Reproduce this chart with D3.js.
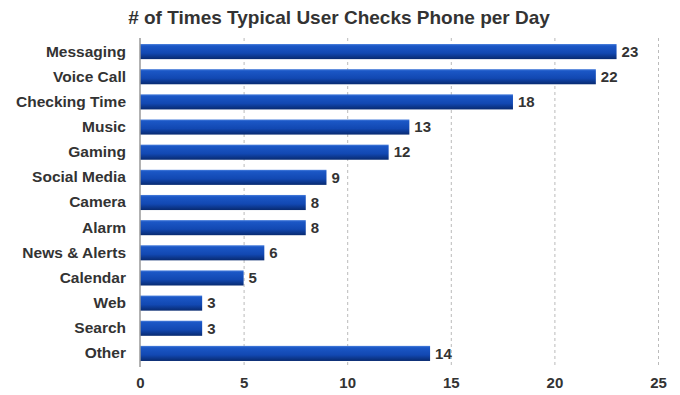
<!DOCTYPE html>
<html><head><meta charset="utf-8">
<script src="https://cdn.jsdelivr.net/npm/d3@7"></script>
<style>body{margin:0;background:#fff;} text{font-family:"Liberation Sans",Arial,sans-serif;}</style>
</head><body>
<svg id="c" width="680" height="395"></svg>
<script>
const categories = ["Messaging","Voice Call","Checking Time","Music","Gaming","Social Media","Camera","Alarm","News & Alerts","Calendar","Web","Search","Other"];
const values = [23,22,18,13,12,9,8,8,6,5,3,3,14];
const ticks = [0,5,10,15,20,25];
const title = "# of Times Typical User Checks Phone per Day";

(function(){
const svg = d3.select("#c");
const mLeft = 140, mRight = 658, mTop = 38, mBottom = 366;
const x = d3.scaleLinear().domain([0,25]).range([mLeft,mRight]);
const y = d3.scaleBand().domain(categories).range([mTop+1,mBottom]).paddingInner(0.4).paddingOuter(0.2);

const defs = svg.append("defs");
const g = defs.append("linearGradient").attr("id","bg").attr("x1",0).attr("y1",0).attr("x2",0).attr("y2",1);
g.append("stop").attr("offset","0%").attr("stop-color","#4a7fdc");
g.append("stop").attr("offset","12%").attr("stop-color","#1b57c6");
g.append("stop").attr("offset","60%").attr("stop-color","#1248b2");
g.append("stop").attr("offset","100%").attr("stop-color","#082a70");

svg.append("text").attr("x",339).attr("y",24).attr("text-anchor","middle")
  .attr("font-size",19).attr("font-weight","bold").attr("fill","#333").text(title);

svg.append("g").selectAll("line").data(ticks.filter(t=>t>0)).join("line")
  .attr("x1",d=>x(d)+0.5).attr("x2",d=>x(d)+0.5).attr("y1",mTop).attr("y2",mBottom)
  .attr("stroke","#bbb").attr("stroke-dasharray","3,3");

const xa = svg.append("g").attr("transform",`translate(0,${mBottom})`)
  .call(d3.axisBottom(x).tickValues(ticks).tickSize(0).tickPadding(11));
xa.select(".domain").remove();
xa.selectAll("text").attr("font-size",15).attr("font-weight","bold").attr("fill","#333").attr("font-family","Liberation Sans, Arial, sans-serif");

const ya = svg.append("g").attr("transform",`translate(${mLeft},0)`)
  .call(d3.axisLeft(y).tickSize(0).tickPadding(14));
ya.select(".domain").remove();
ya.selectAll("text").attr("font-size",15.5).attr("font-weight","bold").attr("fill","#333").attr("font-family","Liberation Sans, Arial, sans-serif");

svg.append("g").selectAll("rect").data(categories).join("rect")
  .attr("x",mLeft).attr("y",d=>y(d)).attr("width",(d,i)=>x(values[i])-mLeft).attr("height",y.bandwidth())
  .attr("fill","url(#bg)");

svg.append("g").selectAll("text").data(categories).join("text")
  .attr("x",(d,i)=>x(values[i])+5).attr("y",d=>y(d)+y.bandwidth()/2).attr("dy","0.35em")
  .attr("font-size",15).attr("font-weight","bold").attr("fill","#333").text((d,i)=>values[i]);

svg.append("line").attr("x1",mLeft).attr("x2",mLeft).attr("y1",mTop).attr("y2",mBottom+1)
  .attr("stroke","#999").attr("stroke-width",1.5);
})();
</script>
</body></html>
